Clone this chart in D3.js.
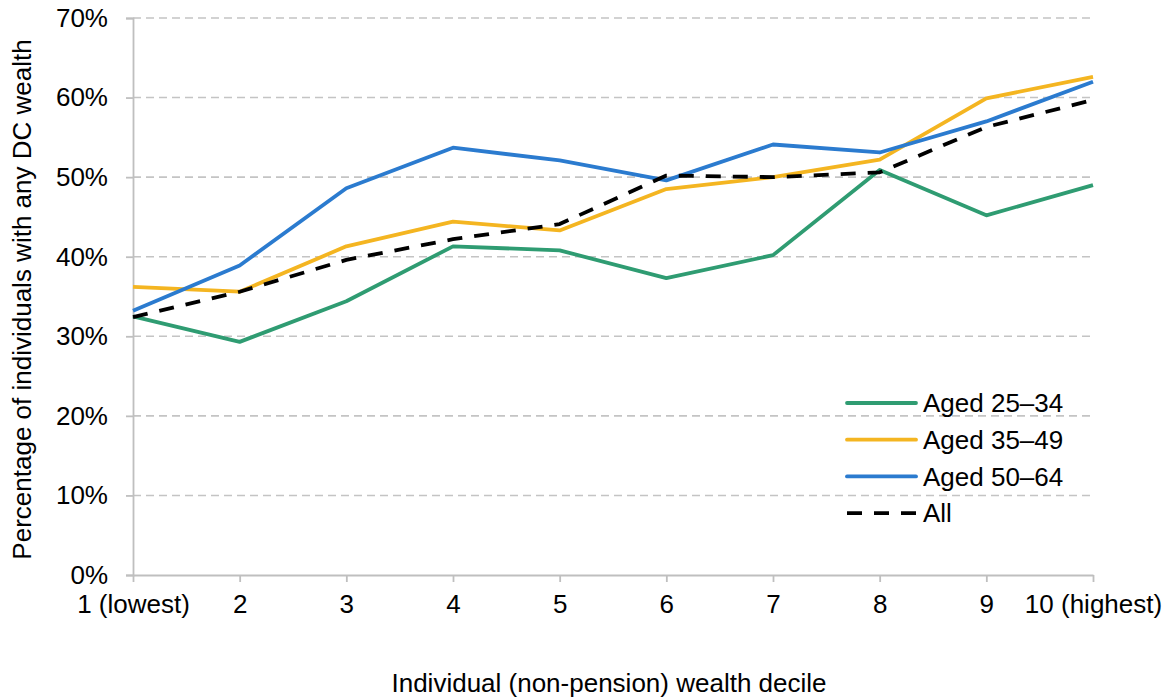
<!DOCTYPE html>
<html>
<head>
<meta charset="utf-8">
<script src="https://cdn.jsdelivr.net/npm/d3@7"></script>
<style>
  html, body { margin: 0; padding: 0; background: #fff; }
  svg { display: block; font-family: "Liberation Sans", Arial, sans-serif; }
</style>
</head>
<body>
<svg id="chart" width="1174" height="700"></svg>
<script>
const deciles = ["1 (lowest)", "2", "3", "4", "5", "6", "7", "8", "9", "10 (highest)"];
const aged25_34 = [32.5, 29.3, 34.4, 41.3, 40.8, 37.3, 40.2, 50.9, 45.2, 49.0];
const aged35_49 = [36.2, 35.6, 41.3, 44.4, 43.3, 48.5, 50.0, 52.2, 59.9, 62.6];
const aged50_64 = [33.2, 38.9, 48.6, 53.7, 52.1, 49.6, 54.1, 53.1, 57.0, 62.0];
const allAges   = [32.4, 35.6, 39.6, 42.2, 44.1, 50.2, 50.0, 50.6, 56.3, 59.7];
const yTicks = [0, 10, 20, 30, 40, 50, 60, 70];

const seriesNames = ["Aged 25\u201334", "Aged 35\u201349", "Aged 50\u201364", "All"];
const seriesValues = [aged25_34, aged35_49, aged50_64, allAges];
const seriesColors = ["#2f9c72", "#f4b521", "#2b7bcf", "#000000"];
const seriesDash = [null, null, null, "15,12"];

const svg = d3.select("#chart");
const margin = {left: 133, right: 81, top: 18, bottom: 125};
const W = 1174, H = 700;
const x = d3.scalePoint().domain(deciles).range([margin.left, W - margin.right]);
const y = d3.scaleLinear().domain([0, 70]).range([H - margin.bottom, margin.top]);
const fs = 26;
const axisColor = "#bfbfbf";

// gridlines
svg.append("g").selectAll("line").data(yTicks.filter(d => d > 0)).join("line")
  .attr("x1", x.range()[0]).attr("x2", x.range()[1])
  .attr("y1", d => y(d)).attr("y2", d => y(d))
  .attr("stroke", "#c4c4c4").attr("stroke-width", 1.6).attr("stroke-dasharray", "8,5");

// y axis
const yAxis = d3.axisLeft(y).tickValues(yTicks).tickFormat(d => d + "%").tickSize(7).tickPadding(18);
const gy = svg.append("g").attr("transform", `translate(${margin.left},0)`).call(yAxis);
gy.select(".domain").attr("stroke", axisColor).attr("stroke-width", 1.8);
gy.selectAll(".tick line").attr("stroke", axisColor).attr("stroke-width", 1.8);
gy.selectAll(".tick text").attr("font-size", fs).attr("fill", "#000").attr("font-family", "Liberation Sans, Arial, sans-serif");

// x axis
const xAxis = d3.axisBottom(x).tickSize(7).tickPadding(13).tickSizeOuter(0);
const gx = svg.append("g").attr("transform", `translate(0,${y(0)})`).call(xAxis);
gx.select(".domain").attr("stroke", axisColor).attr("stroke-width", 1.8);
gx.selectAll(".tick line").attr("stroke", axisColor).attr("stroke-width", 1.8);
gx.selectAll(".tick text").attr("font-size", fs).attr("fill", "#000").attr("font-family", "Liberation Sans, Arial, sans-serif");

// lines
const line = d3.line().x((d, i) => x(deciles[i])).y(d => y(d));
seriesValues.forEach((vals, k) => {
  svg.append("path").datum(vals)
    .attr("d", line)
    .attr("fill", "none")
    .attr("stroke", seriesColors[k])
    .attr("stroke-width", 3.8)
    .attr("stroke-linejoin", "round")
    .attr("stroke-dasharray", seriesDash[k]);
});

// axis titles
svg.append("text")
  .attr("x", 609)
  .attr("y", 692)
  .attr("text-anchor", "middle")
  .attr("font-size", fs)
  .text("Individual (non-pension) wealth decile");

svg.append("text")
  .attr("transform", `translate(31,${(y(0) + y(70)) / 2 + 3}) rotate(-90)`)
  .attr("text-anchor", "middle")
  .attr("font-size", fs)
  .text("Percentage of individuals with any DC wealth");

// legend
const lg = svg.append("g").attr("transform", "translate(847,403)");
seriesNames.forEach((name, k) => {
  const g = lg.append("g").attr("transform", `translate(0,${k * 36.7})`);
  g.append("line").attr("x1", 0).attr("x2", 69).attr("y1", 0).attr("y2", 0)
    .attr("stroke", seriesColors[k]).attr("stroke-width", 3.8)
    .attr("stroke-linecap", k === 3 ? "butt" : "round")
    .attr("stroke-dasharray", k === 3 ? "15,12" : null);
  g.append("text").attr("x", 76).attr("y", 0).attr("dy", "0.35em")
    .attr("font-size", fs).text(name);
});
</script>
</body>
</html>
